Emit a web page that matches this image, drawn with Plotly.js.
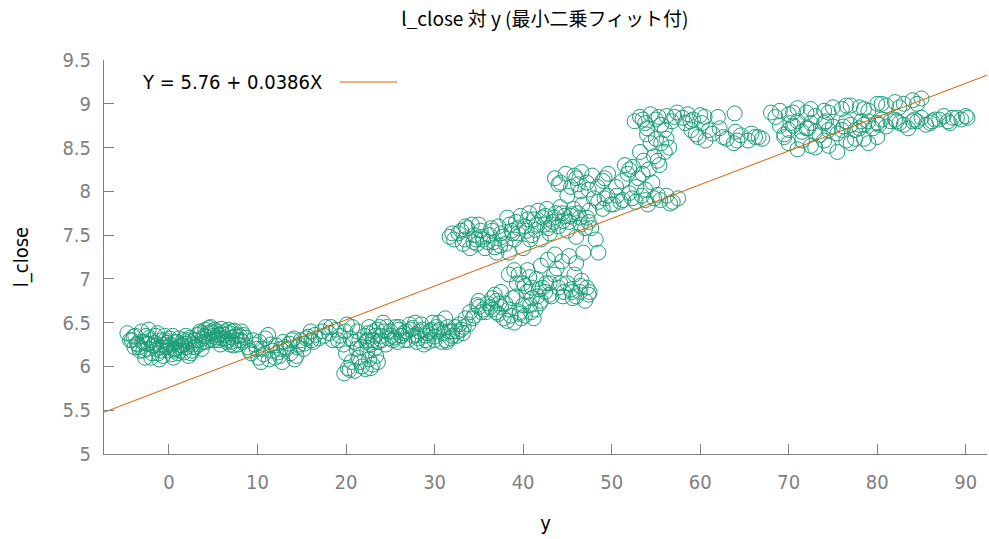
<!DOCTYPE html>
<html>
<head>
<meta charset="utf-8">
<script src="https://cdn.plot.ly/plotly-3.0.1.min.js"></script>
<style>html,body{margin:0;padding:0;background:#fff;}#chart{width:989px;height:539px;}</style>
</head>
<body>
<div id="chart"></div>
<script>
// ---- data ----
const xA = [-4.7,-4.2,-3.8,-3.5,-3.1,-2.8,-2.5,-2.2,-1.9,-1.6,-1.3,-1.0,-0.7,-0.4,-0.1,0.2,0.5,0.8,1.1,1.4,1.7,2.0,2.3,2.6,2.9,3.2,3.5,3.8,4.1,4.4,4.7,5.0,5.3,5.6,5.9,6.2,6.5,6.8,7.1,7.4,7.7,8.0,8.3,8.6,
  -3.9,-3.3,-2.6,-2.0,-1.4,-0.8,-0.2,0.4,1.0,1.6,2.2,2.8,3.4,4.0,4.6,5.2,5.8,6.4,7.0,7.6,
  -3.0,-2.3,-1.1,0.0,0.9,1.9,2.5,3.7,4.9,6.0,7.3,8.2,
  -4.4,-3.6,-2.9,-2.1,-1.5,-0.9,-0.3,0.3,0.7,1.3,1.8,2.4,3.0,3.6,4.2,4.8,5.4,6.0,6.6,7.2,7.8,8.4,
  -2.7,-1.7,-0.5,0.6,1.5,3.3,4.5,5.5,6.7,
  -4.0,-3.4,-2.4,-1.8,-1.2,-0.6,0.1,0.6,1.2,2.1,2.7,3.9,4.3,5.1,5.7,6.3,6.9,7.5,8.1];
const yA = [6.38,6.30,6.35,6.25,6.40,6.28,6.20,6.33,6.15,6.27,6.38,6.22,6.12,6.30,6.18,6.25,6.10,6.20,6.32,6.24,6.16,6.22,6.28,6.18,6.30,6.36,6.40,6.32,6.42,6.38,6.45,6.35,6.40,6.30,6.43,6.36,6.28,6.38,6.33,6.41,6.30,6.35,6.28,6.33,
  6.22,6.18,6.35,6.10,6.20,6.30,6.27,6.35,6.15,6.30,6.12,6.22,6.25,6.35,6.30,6.42,6.25,6.40,6.28,6.36,
  6.28,6.42,6.08,6.22,6.28,6.35,6.15,6.20,6.38,6.32,6.24,6.40,
  6.30,6.26,6.18,6.30,6.35,6.18,6.22,6.14,6.28,6.18,6.26,6.33,6.22,6.38,6.28,6.40,6.33,6.38,6.30,6.40,6.25,6.36,
  6.10,6.24,6.35,6.18,6.24,6.30,6.44,6.36,6.42,
  6.34,6.22,6.26,6.24,6.15,6.25,6.32,6.20,6.22,6.30,6.25,6.28,6.34,6.30,6.36,6.32,6.25,6.34,6.30];

const xB = [8.9,9.3,9.7,10.1,10.5,10.9,11.3,11.7,12.1,12.5,12.9,13.3,13.7,14.1,14.5,14.9,15.3,15.7,16.1,16.5,16.9,
  9.5,10.4,11.2,12.0,12.8,13.6,14.4,15.2,16.0,
  9.1,9.9,10.7,11.5,12.3,13.1,13.9,14.7,15.5,16.3,10.2,12.6,14.2];
const yB = [6.22,6.15,6.25,6.10,6.20,6.32,6.08,6.18,6.24,6.12,6.28,6.20,6.15,6.32,6.22,6.30,6.26,6.34,6.30,6.36,6.32,
  6.30,6.05,6.36,6.10,6.05,6.26,6.12,6.20,6.40,
  6.18,6.20,6.14,6.25,6.16,6.22,6.30,6.25,6.32,6.28,6.28,6.20,6.08];

const xC = [17.3,17.7,18.1,18.5,18.9,19.3,19.7,20.1,20.5,20.9,21.3,21.7,22.1,
  19.8,20.2,20.6,21.0,21.4,21.8,22.2,22.6,23.0,23.4,20.0,21.2,22.4,23.6,
  17.5,18.3,19.1,19.9,20.7,21.5,22.3,20.4,21.6,22.8,23.2];
const yC = [6.40,6.45,6.38,6.30,6.42,6.35,6.25,6.48,6.32,6.28,6.40,6.22,6.35,
  5.92,5.98,6.05,5.95,6.10,6.00,5.97,6.08,6.02,6.12,6.15,6.20,6.18,6.05,
  6.35,6.45,6.30,6.40,6.45,6.30,6.28,5.96,6.05,5.98,6.20];

const xD = [22.5,23.0,23.5,24.0,24.5,25.0,25.5,26.0,26.5,27.0,27.5,28.0,28.5,29.0,29.5,30.0,30.5,31.0,31.5,32.0,32.5,33.0,
  22.8,23.8,24.8,25.8,26.8,27.8,28.8,29.8,30.8,31.8,32.8,
  24.2,26.2,28.2,30.2,31.2,29.2,
  22.6,23.3,24.3,25.3,26.3,27.3,28.3,29.3,30.3,31.3,32.3,33.2,23.6,25.6,27.6,29.6,31.6,
  22.4,23.1,24.6,25.2,26.6,27.2,28.6,29.0,30.6,31.4,32.6,24.0,26.0,28.0,30.0,32.0];
const yD = [6.38,6.30,6.42,6.35,6.25,6.40,6.33,6.45,6.38,6.30,6.44,6.36,6.48,6.30,6.40,6.34,6.50,6.38,6.45,6.40,6.35,6.42,
  6.25,6.45,6.32,6.28,6.40,6.50,6.25,6.50,6.28,6.32,6.48,
  6.50,6.35,6.32,6.45,6.55,6.38,
  6.45,6.35,6.40,6.30,6.35,6.42,6.40,6.28,6.40,6.30,6.45,6.38,6.28,6.45,6.35,6.42,6.40,
  6.30,6.40,6.45,6.35,6.30,6.48,6.42,6.35,6.42,6.28,6.40,6.30,6.42,6.28,6.30,6.35];

const xE = [33.5,34.0,34.5,35.0,35.5,36.0,36.5,37.0,37.5,33.8,34.8,35.8,36.8,
  33.3,34.3,35.3,36.3,37.3,35.0,36.5];
const yE = [6.55,6.62,6.58,6.68,6.65,6.72,6.78,6.75,6.85,6.48,6.70,6.62,6.82,
  6.45,6.55,6.62,6.68,6.72,6.75,6.65];

const xF = [37.2,37.8,38.4,39.0,39.6,40.2,40.8,41.4,42.0,38.0,39.2,40.4,41.6,
  39.5,40.0,40.5,41.0,41.5,42.0,42.5,43.0,43.5,44.0,44.5,45.0,45.5,46.0,46.5,47.0,47.5,
  42.8,43.6,44.4,45.2,46.0,46.8,38.4,39.0,40.2,
  37.5,38.6,39.8,40.9,41.9,43.0,44.2,45.4,46.6,39.3,40.7,41.8,43.8,45.8,47.2,38.8,40.0,41.2,
  42.2,43.2,44.6,45.6,46.4,47.4,41.0,42.6,37.0,38.2,39.6];
const yF = [6.60,6.55,6.65,6.50,6.62,6.58,6.70,6.65,6.75,6.72,6.80,6.85,6.80,
  7.05,6.95,7.10,6.90,7.00,7.15,6.85,6.95,7.05,6.90,6.80,6.95,6.85,6.80,6.92,6.75,6.85,
  7.22,7.28,7.20,7.26,7.18,7.30,7.05,7.10,6.92,
  6.68,6.58,6.55,6.62,6.72,6.82,6.95,6.88,6.98,6.95,7.02,6.88,7.12,7.05,6.90,6.78,6.70,6.55,
  6.90,6.80,6.85,6.78,6.85,6.82,6.78,6.95,6.62,6.52,6.60];

const xG = [31.7,32.2,32.7,33.2,33.7,34.2,34.7,35.2,35.7,36.2,36.7,37.2,37.7,38.2,38.7,39.2,39.7,40.2,40.7,41.2,41.7,42.2,42.7,43.2,43.7,44.2,44.7,45.2,45.7,46.2,46.7,47.2,47.7,48.2,
  33.0,34.0,35.0,36.0,37.0,38.0,39.0,40.0,41.0,42.0,43.0,44.0,45.0,46.0,47.0,48.5,
  32.0,33.5,34.5,35.5,36.5,37.5,38.5,39.5,40.5,41.5,42.5,43.5,44.5,45.5,46.5,47.5,34.8,36.8,38.8,40.8,42.8,
  33.4,35.4,37.4,39.4,41.4,43.4,45.4,47.4,34.4,36.4,38.4,40.4,42.4,44.4,46.4,49.0,50.2];
const yG = [7.48,7.45,7.52,7.40,7.58,7.62,7.45,7.55,7.35,7.50,7.42,7.60,7.48,7.70,7.55,7.65,7.72,7.60,7.75,7.68,7.78,7.70,7.80,7.62,7.75,7.82,7.72,7.65,7.80,7.75,7.85,7.70,7.58,7.45,
  7.55,7.35,7.62,7.42,7.30,7.40,7.45,7.35,7.50,7.45,7.52,7.60,7.55,7.48,7.58,7.30,
  7.52,7.60,7.50,7.45,7.55,7.52,7.62,7.58,7.68,7.62,7.72,7.70,7.66,7.74,7.62,7.78,7.40,7.36,7.52,7.45,7.58,
  7.45,7.48,7.38,7.52,7.56,7.65,7.72,7.65,7.42,7.58,7.30,7.55,7.62,7.75,7.70,7.80,7.85];

const xH = [43.6,44.2,44.8,45.4,46.0,46.6,47.2,47.8,48.4,49.0,49.6,45.0,46.5,48.0,44.0,45.8,47.4,49.2,46.2];
const yH = [8.15,8.10,8.20,8.05,8.15,8.22,8.10,8.18,8.05,8.12,8.20,7.95,8.00,7.92,8.08,8.18,8.02,8.15,8.08];

const xI = [48.5,49.2,49.9,50.6,51.3,52.0,52.7,53.4,54.1,54.8,55.5,56.2,56.9,57.5,49.5,51.0,52.3,53.8,55.2,56.6];
const yI = [7.88,7.92,7.85,7.95,7.90,7.98,7.88,7.95,7.85,7.92,7.90,7.95,7.88,7.92,7.95,7.88,7.92,7.90,7.96,7.86];

const xJ = [50.5,51.2,51.8,52.4,53.0,53.6,54.2,54.8,55.4,56.0,52.8,53.8,54.6,55.6,52.0,53.2,54.4,55.0,56.5,
  51.5,53.5,55.2,56.2,54.0];
const yJ = [8.05,8.12,8.20,8.28,8.15,8.35,8.25,8.40,8.30,8.45,8.05,8.02,8.10,8.55,8.25,8.45,8.55,8.60,8.50,
  8.30,8.20,8.35,8.60,8.65];

const xK = [52.6,53.2,53.8,54.4,55.0,55.6,56.2,56.8,57.4,58.0,58.6,59.2,54.0,56.0,58.3,53.5,55.3,57.1,58.9,60.5];
const yK = [8.80,8.85,8.78,8.88,8.82,8.76,8.86,8.80,8.90,8.84,8.88,8.82,8.72,8.70,8.78,8.82,8.85,8.85,8.80,8.85];

const xL = [59.0,59.8,60.6,61.4,62.2,63.0,63.8,64.6,65.4,66.2,67.0,60.2,62.0,64.0,63.9,60.0,
  59.5,61.0,62.6,64.2,65.8,66.6];
const yL = [8.70,8.62,8.58,8.66,8.72,8.60,8.55,8.64,8.58,8.62,8.60,8.78,8.85,8.68,8.89,8.87,
  8.65,8.70,8.62,8.58,8.66,8.62];

const xM = [68.0,69.0,70.0,71.0,72.0,73.0,74.0,75.0,76.0,77.0,78.0,79.0,80.0,81.0,82.0,83.0,84.0,85.0,
  69.0,70.0,71.0,72.0,73.0,74.0,75.0,76.0,77.0,78.0,79.0,80.0,81.0,82.0,83.0,84.0,85.0,86.0,87.0,88.0,89.0,90.0,
  69.5,71.5,73.5,75.5,77.5,79.5,81.5,83.5,85.5,87.5,89.5,
  70.0,71.0,72.5,74.0,75.5,77.0,78.5,80.0,69.5,73.0,76.5,
  68.5,70.5,72.5,74.5,76.5,78.5,80.5,82.5,84.5,
  70.5,72.5,74.5,76.5,78.5,80.5,82.5,84.5,86.5,88.5,
  71.5,74.5,77.5,79.0,
  70.2,72.2,74.2,76.2,78.2,80.2,82.2,84.2,86.2,88.2,90.2];
const yM = [8.90,8.92,8.88,8.95,8.90,8.86,8.92,8.96,8.94,8.98,8.96,8.92,9.00,8.98,9.02,9.00,9.04,9.06,
  8.75,8.70,8.80,8.72,8.68,8.78,8.74,8.70,8.76,8.72,8.80,8.78,8.74,8.82,8.76,8.80,8.84,8.78,8.82,8.80,8.84,8.86,
  8.62,8.68,8.64,8.66,8.70,8.72,8.80,8.72,8.76,8.86,8.82,
  8.55,8.48,8.52,8.58,8.45,8.55,8.60,8.62,8.65,8.50,8.58,
  8.85,8.90,8.94,8.90,8.98,8.94,9.00,8.96,9.00,
  8.75,8.78,8.70,8.80,8.76,8.82,8.78,8.80,8.82,8.84,
  8.58,8.52,8.60,8.55,
  8.78,8.72,8.80,8.74,8.80,8.76,8.80,8.82,8.80,8.78,8.84];

const fitIntercept = [5.76];
const fitSlope = [0.0386];
const fitLabel = ["Y = 5.76 + 0.0386X"];
const xTicks = [0,10,20,30,40,50,60,70,80,90];
const yTicks = [5,5.5,6,6.5,7,7.5,8,8.5,9,9.5];
const yTickText = ["5","5.5","6","6.5","7","7.5","8","8.5","9","9.5"];

// ---- build ----
const xs = [].concat(xA,xB,xC,xD,xE,xF,xG,xH,xI,xJ,xK,xL,xM);
const ys = [].concat(yA,yB,yC,yD,yE,yF,yG,yH,yI,yJ,yK,yL,yM);
const xRange = [-7.34, 92.4];
const fitX = xRange.slice();
const fitY = fitX.map(v => fitIntercept[0] + fitSlope[0]*v);

const FONT = '"Liberation Sans Narrow", "DejaVu Sans Condensed", "Liberation Sans", sans-serif';
const GREEN = '#1b9e77', ORANGE = '#d95f02', GRAY = '#808080';

const traces = [
  {x: xs, y: ys, type: 'scatter', mode: 'markers', showlegend: false,
   marker: {symbol: 'circle-open', size: 15, color: GREEN, line: {width: 1, color: GREEN}}},
  {x: fitX, y: fitY, type: 'scatter', mode: 'lines', showlegend: false,
   line: {color: ORANGE, width: 1}}
];

const layout = {
  width: 989, height: 539,
  margin: {l: 104, r: 2, t: 60, b: 85},
  paper_bgcolor: '#fff', plot_bgcolor: '#fff',
  showlegend: false,
  title: {text: 'l_close 対 y (最小二乗フィット付)', x: 0.551, xanchor: 'center', y: 0.965, yanchor: 'middle',
          font: {family: '"Liberation Sans Narrow", "Noto Sans CJK JP", sans-serif', size: 19, color: '#000'}},
  xaxis: {range: xRange, tickvals: xTicks, ticktext: xTicks.map(String), ticks: 'inside', ticklen: 10,
          tickcolor: GRAY, showline: true, linecolor: GRAY, linewidth: 1, showgrid: false, zeroline: false,
          tickfont: {family: FONT, size: 20, color: GRAY}, ticklabelstandoff: 10,
          title: {text: 'y', font: {family: FONT, size: 20, color: '#000'}, standoff: 22}},
  yaxis: {range: [5, 9.5], tickvals: yTicks, ticktext: yTickText, ticks: 'inside', ticklen: 10,
          tickcolor: GRAY, showline: true, linecolor: GRAY, linewidth: 1, showgrid: false, zeroline: false,
          tickfont: {family: FONT, size: 20, color: GRAY}, ticklabelstandoff: 8,
          title: {text: 'l_close', font: {family: FONT, size: 20, color: '#000'}, standoff: 28}},
  annotations: [{xref: 'paper', yref: 'paper', x: (140-104)/883, y: (454-82)/394, xanchor: 'left', yanchor: 'middle',
                 text: fitLabel[0], showarrow: false, font: {family: FONT, size: 20, color: '#000'}}],
  shapes: [{type: 'line', xref: 'paper', yref: 'paper', x0: (340-104)/883, x1: (397-104)/883,
            y0: (454-82)/394, y1: (454-82)/394, line: {color: ORANGE, width: 1}}]
};

Plotly.newPlot('chart', traces, layout, {displayModeBar: false, staticPlot: true});
</script>
</body>
</html>
